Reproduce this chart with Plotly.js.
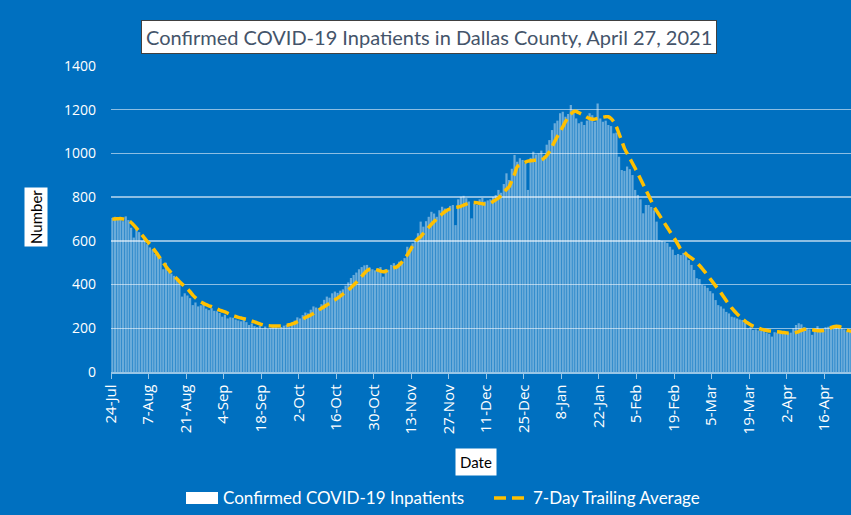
<!DOCTYPE html>
<html>
<head>
<meta charset="utf-8">
<script src="https://cdn.plot.ly/plotly-3.0.1.min.js"></script>
<style>
html,body{margin:0;padding:0;background:#0070C0;}
#chart{width:851px;height:515px;}
</style>
</head>
<body>
<div id="chart"></div>
<script>
// ---- Data ----
const startDate = '2020-07-24';

const inpatients = [
  705,710,698,702,690,712,695,660,615,655,640,600,612,585,570,560,540,545,520,470,
  500,460,450,440,425,410,345,360,350,338,306,318,300,305,310,290,283,292,280,278,
  270,253,262,245,250,248,240,236,232,245,228,215,222,210,205,212,200,208,198,202,
  210,205,200,206,212,215,208,222,235,250,245,260,272,268,285,300,295,290,310,330,
  345,340,360,368,362,372,378,395,410,430,444,455,470,480,488,490,478,470,465,475,
  480,436,470,468,490,498,490,505,500,521,573,560,589,600,635,688,665,690,710,733,
  725,710,740,756,748,741,760,764,672,790,802,806,795,780,703,770,764,790,796,780,
  785,790,800,810,833,820,860,909,878,930,993,962,978,970,955,833,980,1008,995,1000,
  1013,990,1040,1061,1107,1138,1150,1184,1191,1168,1180,1222,1199,1160,1138,1145,1130,1150,1184,1175,
  1145,1229,1160,1145,1150,1130,1125,1092,1095,985,924,920,940,928,901,833,810,790,726,764,
  764,755,740,688,604,600,596,590,573,560,535,540,535,545,550,512,490,467,429,425,
  398,395,385,370,360,329,306,300,290,275,268,253,250,245,240,238,225,200,205,192,
  195,190,188,192,180,175,162,182,180,178,185,182,178,180,200,215,223,218,205,200,
  195,170,200,210,195,198,205,207,212,210,215,208,200,195,184,182,178,180
];

const trailingAvg = [
  700,700,701,702,700,697,692,684,672,658,643,628,613,598,585,570,553,535,517,500,
  483,467,453,440,427,414,402,391,380,367,352,340,329,321,314,308,303,299,294,289,
  283,279,275,269,263,258,254,250,247,244,241,237,233,229,225,220,216,213,212,211,
  210,210,210,210,211,213,216,220,224,230,236,242,249,255,261,268,276,284,292,299,
  306,314,322,330,338,347,356,365,375,386,398,410,424,438,452,464,470,472,470,466,
  462,459,461,466,472,477,480,490,503,518,535,555,577,598,610,619,634,648,662,676,
  688,700,712,723,733,741,746,750,753,755,758,763,768,772,775,775,774,772,770,769,
  769,773,780,788,796,808,822,836,848,875,905,939,948,955,960,965,967,968,969,970,
  970,978,990,1008,1031,1055,1078,1100,1122,1145,1165,1180,1191,1192,1186,1180,1174,1166,1160,1156,
  1157,1160,1163,1166,1168,1168,1160,1145,1122,1090,1057,1023,1000,978,955,932,908,883,858,833,
  808,782,756,737,718,699,680,661,642,623,604,583,561,551,540,530,521,512,500,487,
  473,458,442,426,410,394,378,362,344,326,309,293,279,266,254,243,233,224,216,210,
  205,200,196,193,190,188,187,185,184,183,181,180,178,177,178,181,185,190,195,196,
  195,193,191,189,189,190,193,197,202,207,209,208,204,198,192,188,185,183
];

const seriesNames = ['Confirmed COVID-19 Inpatients', '7-Day Trailing Average'];
const chartTitle = 'Confirmed COVID-19 Inpatients in Dallas County, April 27, 2021';
const yTickValues = [0,200,400,600,800,1000,1200,1400];

// daily dates (category axis)
const dates = [];
{
  const d0 = new Date(startDate + 'T12:00:00Z');
  for (let i = 0; i < inpatients.length; i++) {
    const d = new Date(d0.getTime() + i * 86400000);
    dates.push(d.toISOString().slice(0, 10) + ' 12:00');
  }
}

const barColor = 'rgba(255,255,255,0.42)';
const lineColor = '#FFC000';
const dashPattern = '12px,6px';

const bars = {
  type: 'bar',
  name: seriesNames[0],
  x: dates,
  y: inpatients,
  marker: {color: barColor, line: {width: 0}},
  showlegend: false
};

const avgLine = {
  type: 'scatter',
  mode: 'lines',
  name: seriesNames[1],
  x: dates,
  y: trailingAvg,
  line: {color: lineColor, width: 3.5, dash: dashPattern, shape: 'spline', smoothing: 0.6},
  showlegend: false
};

// pixel helpers for layout decorations (plot area: x 111..851, y 66..372)
const PX = x => (x - 111) / 740;
const PY = y => (372 - y) / 306;

const layout = {
  width: 851,
  height: 515,
  paper_bgcolor: '#0070C0',
  plot_bgcolor: '#0070C0',
  margin: {l: 111, r: 0, t: 66, b: 143, autoexpand: false},
  bargap: 0.18,
  showlegend: false,
  xaxis: {
    type: 'date',
    range: ['2020-07-24 00:00', '2021-04-26 00:00'],
    tick0: '2020-07-24',
    dtick: 14 * 86400000,
    tickformat: '%-d-%b',
    tickangle: -90,
    ticks: 'outside',
    ticklen: 5,
    tickcolor: 'rgba(255,255,255,0.6)',
    showline: true,
    linecolor: 'rgba(255,255,255,0.6)',
    linewidth: 1.5,
    showgrid: false,
    zeroline: false,
    automargin: false,
    tickfont: {family: 'Open Sans, sans-serif', size: 15, color: '#ffffff'},
    fixedrange: true
  },
  yaxis: {
    range: [0, 1400],
    tickvals: yTickValues,
    ticks: '',
    showgrid: true,
    gridcolor: 'rgba(255,255,255,0.55)',
    gridwidth: 1.5,
    zeroline: false,
    showline: false,
    automargin: false,
    ticklabelstandoff: 14,
    tickfont: {family: 'Open Sans, sans-serif', size: 14, color: '#ffffff'},
    fixedrange: true
  },
  shapes: [
    // legend swatch: bars
    {type: 'rect', xref: 'paper', yref: 'paper',
     x0: PX(186), x1: PX(218), y0: PY(504), y1: PY(492),
     fillcolor: '#ffffff', line: {width: 0}},
    // legend swatch: dashed line
    {type: 'line', xref: 'paper', yref: 'paper',
     x0: PX(494), x1: PX(529), y0: PY(498), y1: PY(498),
     line: {color: lineColor, width: 3.5, dash: dashPattern}}
  ],
  annotations: [
    {
      xref: 'paper', yref: 'paper',
      x: PX(429), y: PY(37),
      xanchor: 'center', yanchor: 'middle',
      text: chartTitle,
      showarrow: false,
      font: {family: 'Lato, sans-serif', size: 20, color: '#44546A'},
      bgcolor: '#ffffff',
      bordercolor: '#404040',
      borderwidth: 1,
      borderpad: 4
    },
    {
      xref: 'paper', yref: 'paper',
      x: PX(36), y: PY(217),
      xanchor: 'center', yanchor: 'middle',
      text: 'Number',
      textangle: -90,
      showarrow: false,
      font: {family: 'Lato, sans-serif', size: 15, color: '#000000'},
      bgcolor: '#ffffff',
      borderpad: 2
    },
    {
      xref: 'paper', yref: 'paper',
      x: PX(476), y: PY(462),
      xanchor: 'center', yanchor: 'middle',
      text: 'Date',
      showarrow: false,
      font: {family: 'Lato, sans-serif', size: 15, color: '#000000'},
      bgcolor: '#ffffff',
      borderpad: 4
    },
    {
      xref: 'paper', yref: 'paper',
      x: PX(221), y: PY(498),
      xanchor: 'left', yanchor: 'middle',
      text: seriesNames[0],
      showarrow: false,
      font: {family: 'Lato, sans-serif', size: 17, color: '#ffffff'}
    },
    {
      xref: 'paper', yref: 'paper',
      x: PX(531), y: PY(498),
      xanchor: 'left', yanchor: 'middle',
      text: seriesNames[1],
      showarrow: false,
      font: {family: 'Lato, sans-serif', size: 17, color: '#ffffff'}
    }
  ]
};

Plotly.newPlot('chart', [bars, avgLine], layout, {displayModeBar: false, staticPlot: true});
</script>
</body>
</html>
